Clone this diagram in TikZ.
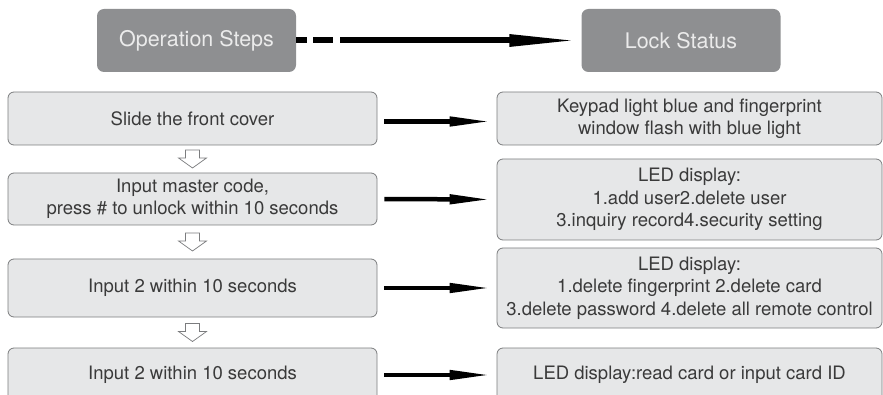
\documentclass[tikz,border=0pt]{standalone}
\usepackage{fontspec}
\setmainfont{TeX Gyre Heros}
\usetikzlibrary{arrows.meta, calc}

\definecolor{headgray}{HTML}{8E8F91}
\definecolor{boxgray}{HTML}{E6E7E8}
\definecolor{linegray}{HTML}{7B7C7E}
\definecolor{textgray}{HTML}{3A3A3A}

\tikzset{
  header/.style={rounded corners=7pt, fill=headgray, text=white!92!black,
    minimum width=199pt, minimum height=63pt, font=\fontsize{21.5}{24}\selectfont},
  stepbox/.style={rounded corners=6pt, draw=linegray, line width=0.8pt, fill=boxgray,
    text=textgray, align=center, minimum width=369pt, font=\fontsize{18.5}{22.5}\selectfont},
  statusbox/.style={stepbox, minimum width=385pt},
  flow/.style={line width=4.5pt, -{Triangle[length=42pt, width=9pt]},
    shorten <=7pt, shorten >=5pt},
  hollowdown/.pic={
    \draw[linegray, fill=white, line width=0.7pt]
      (-7,-9) -- (7,-9) -- (7,-1) -- (14,-1) -- (0,9) -- (-14,-1) -- (-7,-1) -- cycle;
  }
}

\begin{document}
\begin{tikzpicture}[x=1pt, y=-1pt]
            \useasboundingbox (0,0) rectangle (883,395);
            \clip (0,0) rectangle (883,395);

            % Headers
            \node[header] (ops) at (196.5,40.5) {Operation Steps};
            \node[header] (lock) at (681,40.5) {Lock Status};
            \draw[line width=6pt, dash pattern=on 11pt off 6pt on 20pt off 7pt on 600pt off 0pt,
              -{Triangle[length=72pt, width=11pt]}] (ops.east) -- (lock.west);

            % Operation steps
            \node[stepbox, minimum height=53pt] (s1) at (192.5,118.5) {Slide the front cover};
            \node[stepbox, minimum height=52pt] (s2) at (192.5,199) {Input master code,\\press \# to unlock within 10 seconds};
            \node[stepbox, minimum height=58pt] (s3) at (192.5,288) {Input 2 within 10 seconds};
            \node[stepbox, minimum height=54pt] (s4) at (192.5,375) {Input 2 within 10 seconds};

            % Lock status
            \node[statusbox, minimum height=53pt] (r1) at (689.5,118.5) {Keypad light blue and fingerprint\\window flash with blue light};
            \node[statusbox, minimum height=81pt] (r2) at (689.5,199.5) {LED display:\\1.add user2.delete user\\3.inquiry record4.security setting};
            \node[statusbox, minimum height=80pt] (r3) at (689.5,288) {LED display:\\1.delete fingerprint 2.delete card\\3.delete password 4.delete all remote control};
            \node[statusbox, minimum height=54pt] (r4) at (689.5,375) {LED display:read card or input card ID};

            % Step to status
            \draw[flow] ([yshift=-3pt]s1.east) -- ([yshift=-3pt]s1.east -| r1.west);
            \draw[flow] (s2.east) -- (r2.west);
            \draw[flow] (s3.east) -- (r3.west);
            \draw[flow] (s4.east) -- (r4.west);

            % Next step
            \pic at ($(s1.south)!0.5!(s2.north)$) {hollowdown};
            \pic at ($(s2.south)!0.5!(s3.north)$) {hollowdown};
            \pic at ($(s3.south)!0.5!(s4.north)$) {hollowdown};
        \end{tikzpicture}
\end{document}
